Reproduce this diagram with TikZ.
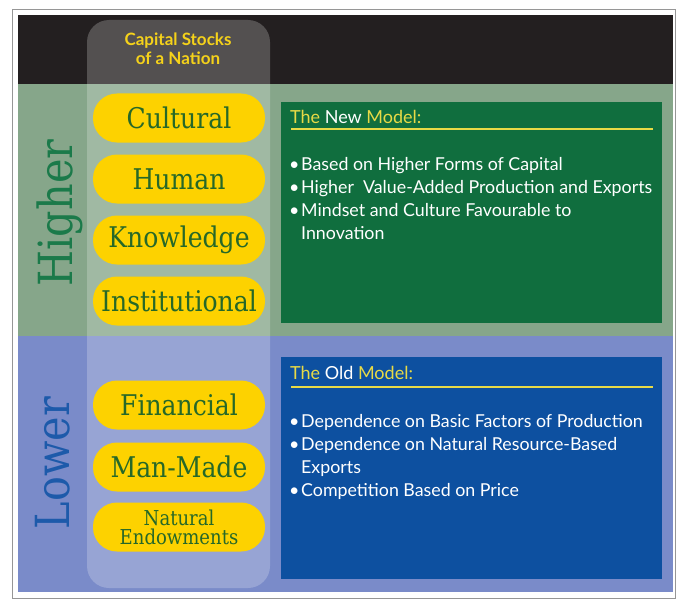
\documentclass[tikz,border=0pt]{standalone}
\usepackage{fontspec}
\setmainfont{Lato}
\newfontfamily\pillserif[FakeStretch=0.88]{DejaVu Serif}
\definecolor{bandblack}{RGB}{35,31,32}
\definecolor{bandgreen}{RGB}{134,166,138}
\definecolor{bandblue}{RGB}{122,139,201}
\definecolor{boxgreen}{RGB}{16,110,62}
\definecolor{boxblue}{RGB}{13,80,160}
\definecolor{pillyellow}{RGB}{253,210,0}
\definecolor{pilltext}{RGB}{38,104,40}
\definecolor{highertext}{RGB}{27,122,74}
\definecolor{lowertext}{RGB}{29,90,170}
\definecolor{titleyellow}{RGB}{232,218,70}
\definecolor{capyellow}{RGB}{245,210,26}
\definecolor{framegray}{RGB}{150,150,150}
\tikzset{
  pill/.style={rectangle, rounded corners=24pt, fill=pillyellow, minimum width=172pt, minimum height=49pt, inner sep=0pt, text=pilltext, font=\pillserif\fontsize{28.5}{28.5}\selectfont},
  modelbox/.style={rectangle, minimum width=381pt, minimum height=221pt, inner sep=0pt},
  boxtitle/.style={anchor=base west, inner sep=0pt, font=\fontsize{18}{18}\selectfont, text=titleyellow},
  bulletline/.style={anchor=base west, inner sep=0pt, font=\fontsize{17.8}{17.8}\selectfont, text=white},
  uline/.style={titleyellow, line width=1.5pt},
  sidelabel/.style={rotate=90, anchor=base, inner sep=0pt, font=\pillserif\fontsize{47}{47}\selectfont}
}
\newcommand{\bl}{\makebox[12pt][l]{•}}
\begin{document}
\begin{tikzpicture}[x=1pt,y=-1pt]
\useasboundingbox (0,0) rectangle (676,599);
\fill[white] (0,0) rectangle (676,599);
\draw[framegray, line width=0.8pt] (12,9) rectangle (675,598);
% bands
\fill[bandblack] (18,15) rectangle (673,84);
\fill[bandgreen] (18,84) rectangle (673,336);
\fill[bandblue] (18,336) rectangle (673,592);
% translucent column
\fill[white, fill opacity=0.22, rounded corners=22pt] (87,20) rectangle (270,588);
\node[align=center, inner sep=0pt, text=capyellow, font=\bfseries\fontsize{17}{19}\selectfont] (cap) at (178,49) {Capital Stocks\\of a Nation};
% side labels
\node[sidelabel, text=highertext] (higher) at (72,213) {Higher};
\node[sidelabel, text=lowertext] (lower) at (69,463) {Lower};
% pills
\node[pill] (cultural) at (179,118) {Cultural};
\node[pill] (human) at (179,179) {Human};
\node[pill] (knowledge) at (179,240) {Knowledge};
\node[pill] (institutional) at (179,301) {Institutional};
\node[pill] (financial) at (179,405) {Financial};
\node[pill] (manmade) at (179,467) {Man-Made};
\node[pill, align=center, font=\pillserif\fontsize{20.5}{19}\selectfont] (natural) at (179,527) {Natural\\Endowments};
% new model box
\node[modelbox, fill=boxgreen] (newbox) at (471.5,212.5) {};
\node[boxtitle] (newtitle) at (290,123) {The \textcolor{white}{New} Model:};
\draw[uline] (291,129) -- (653,129);
\node[bulletline] (n1) at (289,170) {\bl Based on Higher Forms of Capital};
\node[bulletline] (n2) at (289,193) {\bl Higher\ \ Value-Added Production and Exports};
\node[bulletline] (n3) at (289,216) {\bl Mindset and Culture Favourable to};
\node[bulletline] (n4) at (301,239) {Innovation};
% old model box
\node[modelbox, fill=boxblue, minimum height=222pt] (oldbox) at (471.5,468) {};
\node[boxtitle] (oldtitle) at (290,379) {The \textcolor{white}{Old} Model:};
\draw[uline] (291,387) -- (653,387);
\node[bulletline] (o1) at (289,427) {\bl Dependence on Basic Factors of Production};
\node[bulletline] (o2) at (289,450) {\bl Dependence on Natural Resource-Based};
\node[bulletline] (o3) at (301,473) {Exports};
\node[bulletline] (o4) at (289,496) {\bl Competition Based on Price};
\end{tikzpicture}
\end{document}
